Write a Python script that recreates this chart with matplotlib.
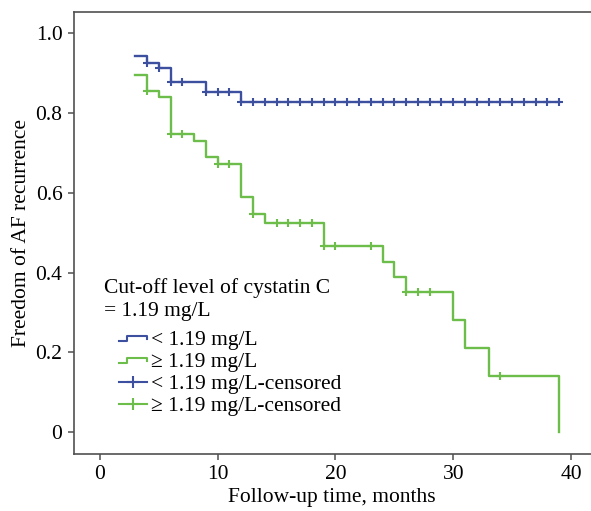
import numpy as np
import matplotlib
matplotlib.use("Agg")
import matplotlib.pyplot as plt
from matplotlib.lines import Line2D
from matplotlib.legend_handler import HandlerBase

plt.rcParams["font.family"] = ["Liberation Serif", "DejaVu Serif"]
plt.rcParams["font.size"] = 15.5

# Kaplan-Meier steps
low_times = [3, 4, 5, 6, 9, 12, 39]
low_surv = [0.942, 0.926, 0.913, 0.878, 0.851, 0.828, 0.828]
low_censored = [4, 5, 6, 7, 9, 10, 11, 12, 13, 14, 15, 16, 17, 18, 19, 20, 21,
                22, 23, 24, 25, 26, 27, 28, 29, 30, 31, 32, 33, 34, 35, 36, 37,
                38, 39]

high_times = [3, 4, 5, 6, 8, 9, 10, 12, 13, 14, 19, 24, 25, 26, 30, 31, 33, 39]
high_surv = [0.895, 0.855, 0.839, 0.747, 0.730, 0.690, 0.671, 0.590, 0.546,
             0.523, 0.466, 0.427, 0.388, 0.352, 0.281, 0.211, 0.141, 0.0]
high_censored = [4, 6, 7, 10, 11, 13, 15, 16, 17, 18, 19, 20, 23, 26, 27, 28, 34]

labels = ["< 1.19 mg/L", "\u2265 1.19 mg/L",
          "< 1.19 mg/L-censored", "\u2265 1.19 mg/L-censored"]
title_lines = ["Cut-off level of cystatin C", "= 1.19 mg/L"]

blue = "#3d4f9f"
green = "#6cbd4a"
spine_col = "#505050"


def surv_at(times, surv, t):
    idx = np.searchsorted(times, t, side="right") - 1
    return np.asarray(surv)[idx]


class StepHandler(HandlerBase):
    # small step icon, indented like the SPSS legend
    def create_artists(self, legend, orig_handle, xdescent, ydescent,
                       width, height, fontsize, trans):
        x0 = -xdescent + 0.36 * width
        w = width - 0.36 * width
        yb = -ydescent + 0.22 * height
        yt = -ydescent + 0.6 * height
        xs = [x0, x0 + 0.3 * w, x0 + 0.3 * w, x0 + w, x0 + w]
        ys = [yb, yb, yt, yt, yt - 0.35 * (yt - yb) - 1]
        ln = Line2D(xs, ys, color=orig_handle.get_color(), lw=1.5,
                    transform=trans)
        return [ln]


class CensorHandler(HandlerBase):
    def create_artists(self, legend, orig_handle, xdescent, ydescent,
                       width, height, fontsize, trans):
        x0 = -xdescent + 0.36 * width
        x1 = -xdescent + width
        y = -ydescent + 0.42 * height
        ln = Line2D([x0, x1], [y, y], color=orig_handle.get_color(), lw=1.5,
                    transform=trans)
        mk = Line2D([(x0 + x1) / 2], [y], color=orig_handle.get_color(),
                    marker="+", ms=9, mew=1.5, ls="none", transform=trans)
        return [ln, mk]


fig = plt.figure(figsize=(5.91, 5.11), dpi=100)
ax = fig.add_axes([0.1245, 0.112, 0.8755, 0.8645])

ax.step(low_times, low_surv, where="post", color=blue, lw=1.7)
ax.step(high_times, high_surv, where="post", color=green, lw=1.7)
ax.plot(low_censored, surv_at(low_times, low_surv, low_censored), ls="none",
        marker="+", ms=6, mew=1.5, color=blue)
ax.plot(high_censored, surv_at(high_times, high_surv, high_censored), ls="none",
        marker="+", ms=6, mew=1.5, color=green)

ax.set_xlim(-2.24, 41.7)
ax.set_ylim(-0.054, 1.0526)
ax.set_xticks([0, 10, 20, 30, 40])
ax.set_yticks([0, 0.2, 0.4, 0.6, 0.8, 1.0])
ax.set_yticklabels(["0", "0.2", "0.4", "0.6", "0.8", "1.0"])
ax.set_xlabel("Follow-up time, months", labelpad=3)
ax.set_ylabel("Freedom of AF recurrence", labelpad=3)

ax.spines["right"].set_visible(False)
for s in ["left", "bottom", "top"]:
    ax.spines[s].set_color(spine_col)
    ax.spines[s].set_linewidth(1.2)
ax.tick_params(direction="out", length=4, width=1.1, color=spine_col,
               labelcolor="black", pad=4)

# legend title written as plain text, SPSS style
ax.text(0.0588, 0.375, title_lines[0], transform=ax.transAxes,
        ha="left", va="center")
ax.text(0.0588, 0.323, title_lines[1], transform=ax.transAxes,
        ha="left", va="center")

h1 = Line2D([], [], color=blue)
h2 = Line2D([], [], color=green)
h3 = Line2D([], [], color=blue)
h4 = Line2D([], [], color=green)
leg = ax.legend([h1, h2, h3, h4], labels,
                handler_map={h1: StepHandler(), h2: StepHandler(),
                             h3: CensorHandler(), h4: CensorHandler()},
                loc="upper left", bbox_to_anchor=(0.058, 0.281),
                frameon=False, borderpad=0, borderaxespad=0,
                handlelength=2.0, handletextpad=0.2, labelspacing=0.09,
                fontsize=15.5)

fig.savefig("out.png", dpi=100)
